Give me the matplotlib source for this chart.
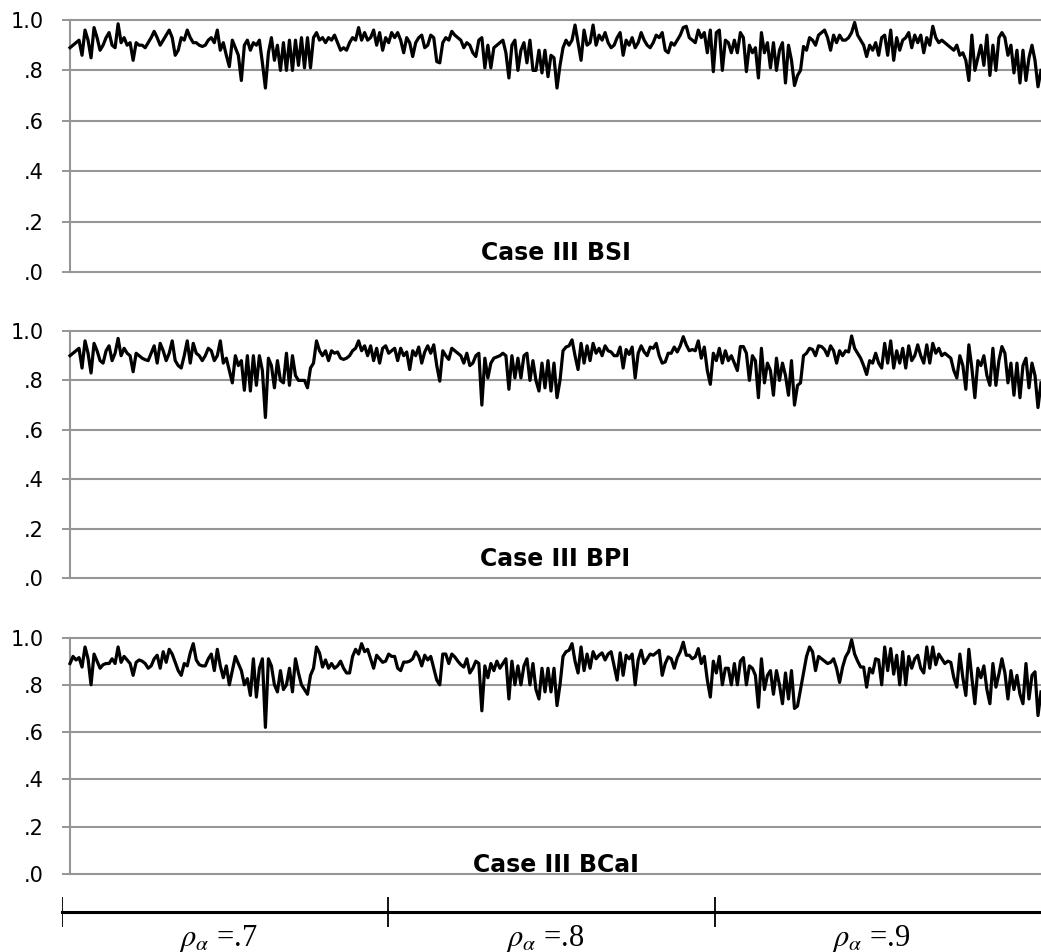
import numpy as np
import matplotlib
matplotlib.use('Agg')
import matplotlib.pyplot as plt

plt.rcParams['font.family'] = ['DejaVu Sans']
plt.rcParams['mathtext.fontset'] = 'stix'

# coverage per condition, 108 conditions for each reliability level
bsi_r7 = [.89, .90, .91, .92, .86, .96, .92, .85, .97, .93, .88, .90, .93, .95, .90, .89, .985, .91,
          .93, .90, .91, .84, .91, .90, .90, .89, .91, .93, .955, .93, .90, .92, .94, .96, .93, .86,
          .88, .93, .92, .96, .93, .91, .91, .90, .895, .90, .92, .93, .91, .96, .88, .91, .86, .815,
          .92, .89, .86, .76, .90, .92, .88, .91, .90, .92, .83, .73, .87, .93, .84, .90, .80, .91,
          .80, .92, .80, .92, .82, .93, .81, .93, .81, .93, .95, .92, .93, .91, .93, .92, .94, .91,
          .88, .89, .88, .91, .93, .92, .97, .92, .95, .92, .93, .96, .90, .95, .88, .93, .91, .95]
bsi_r8 = [.93, .95, .92, .87, .93, .91, .855, .91, .93, .94, .89, .90, .94, .93, .835, .83, .91, .93,
          .92, .955, .94, .93, .92, .89, .91, .90, .87, .855, .92, .93, .81, .90, .81, .89, .90, .91,
          .92, .87, .77, .90, .92, .80, .88, .91, .83, .92, .80, .80, .88, .79, .88, .775, .86, .85,
          .73, .82, .89, .92, .90, .92, .98, .91, .84, .96, .90, .91, .98, .90, .94, .92, .95, .91,
          .89, .90, .93, .95, .86, .92, .90, .93, .89, .91, .95, .92, .90, .89, .91, .94, .93, .95,
          .88, .87, .91, .90, .92, .94, .97, .975, .93, .92, .91, .96, .93, .95, .87, .96, .795, .95]
bsi_r9 = [.96, .80, .92, .91, .87, .92, .87, .95, .93, .795, .90, .87, .89, .77, .95, .87, .91, .81,
          .91, .80, .88, .91, .75, .90, .84, .74, .78, .80, .895, .88, .93, .92, .90, .94, .95, .96,
          .93, .88, .94, .91, .94, .92, .92, .93, .95, .99, .94, .92, .90, .855, .90, .88, .91, .86,
          .93, .94, .86, .96, .84, .93, .88, .92, .93, .95, .89, .94, .91, .94, .87, .93, .90, .975,
          .93, .91, .92, .91, .90, .89, .88, .90, .86, .87, .84, .76, .94, .80, .85, .90, .82, .94,
          .78, .90, .80, .93, .95, .93, .86, .90, .79, .88, .75, .88, .76, .85, .90, .84, .735, .80]

bpi_r7 = [.90, .91, .92, .93, .85, .96, .91, .83, .95, .92, .88, .87, .92, .94, .88, .91, .97, .90,
          .93, .91, .90, .835, .91, .90, .89, .884, .88, .91, .94, .87, .95, .92, .88, .91, .96, .88,
          .86, .85, .90, .96, .87, .95, .91, .90, .88, .90, .93, .92, .88, .90, .96, .87, .89, .84,
          .79, .90, .86, .88, .76, .90, .757, .90, .78, .90, .84, .65, .89, .86, .77, .88, .80, .79,
          .91, .78, .90, .82, .80, .80, .80, .77, .85, .87, .96, .92, .90, .92, .88, .92, .91, .915,
          .89, .885, .89, .90, .92, .93, .96, .92, .94, .90, .94, .88, .93, .87, .93, .94, .91, .92]
bpi_r8 = [.93, .88, .93, .90, .915, .844, .92, .90, .935, .87, .915, .94, .91, .944, .86, .797, .92, .90,
          .885, .93, .92, .91, .90, .87, .91, .86, .87, .90, .91, .70, .89, .81, .87, .89, .895, .90,
          .91, .90, .764, .90, .81, .89, .81, .90, .91, .80, .88, .80, .757, .87, .77, .88, .757, .87,
          .73, .80, .92, .935, .94, .964, .90, .844, .95, .87, .94, .88, .95, .91, .93, .90, .94, .92,
          .915, .90, .90, .935, .85, .925, .905, .935, .81, .91, .94, .915, .90, .935, .93, .95, .90, .87,
          .875, .91, .91, .935, .915, .94, .977, .944, .92, .925, .92, .96, .89, .935, .84, .784, .91, .88]
bpi_r9 = [.93, .87, .92, .88, .90, .87, .84, .937, .937, .91, .80, .90, .88, .73, .93, .79, .87, .84,
          .74, .89, .80, .87, .82, .74, .88, .70, .78, .79, .90, .91, .93, .925, .90, .94, .937, .925,
          .90, .94, .92, .87, .92, .90, .92, .915, .98, .93, .91, .89, .86, .824, .88, .87, .91, .87,
          .85, .95, .87, .96, .85, .92, .87, .93, .85, .94, .88, .90, .944, .90, .87, .944, .87, .95,
          .91, .93, .90, .91, .90, .89, .84, .81, .90, .86, .764, .944, .85, .73, .88, .86, .90, .82,
          .78, .93, .78, .88, .937, .91, .79, .87, .74, .87, .73, .86, .89, .77, .87, .82, .69, .79]

bcai_r7 = [.89, .92, .905, .915, .875, .96, .91, .80, .93, .90, .87, .885, .89, .89, .91, .89, .96, .895,
           .92, .905, .89, .84, .895, .905, .90, .89, .87, .88, .91, .925, .87, .94, .895, .95, .93, .895,
           .86, .84, .89, .88, .935, .974, .905, .885, .88, .88, .91, .93, .86, .95, .88, .83, .88, .80,
           .86, .92, .89, .86, .80, .826, .755, .91, .748, .87, .91, .62, .91, .88, .80, .77, .86, .78,
           .80, .87, .77, .91, .85, .80, .78, .76, .84, .87, .96, .935, .875, .905, .87, .89, .87, .88,
           .90, .87, .85, .85, .92, .95, .93, .974, .94, .95, .91, .87, .925, .91, .895, .90, .93, .92]
bcai_r8 = [.92, .87, .86, .896, .896, .90, .91, .94, .92, .88, .925, .905, .92, .87, .82, .80, .93, .93,
           .89, .93, .918, .90, .885, .875, .91, .85, .87, .90, .89, .69, .88, .83, .89, .86, .90, .87,
           .89, .91, .74, .90, .80, .88, .80, .88, .91, .80, .89, .78, .74, .87, .77, .87, .77, .87,
           .712, .80, .92, .94, .946, .974, .90, .85, .96, .86, .93, .87, .94, .91, .925, .935, .905, .93,
           .94, .88, .82, .935, .84, .925, .91, .93, .80, .905, .946, .89, .91, .93, .925, .935, .946, .84,
           .89, .918, .91, .87, .915, .94, .98, .925, .925, .91, .918, .953, .89, .92, .82, .748, .90, .85]
bcai_r9 = [.92, .80, .87, .87, .80, .89, .80, .90, .915, .80, .88, .87, .84, .705, .91, .78, .84, .86,
           .76, .86, .80, .72, .85, .74, .86, .70, .71, .78, .85, .92, .96, .94, .86, .92, .91, .90,
           .89, .895, .91, .87, .81, .875, .918, .94, .99, .93, .90, .875, .875, .79, .87, .85, .91, .905,
           .80, .96, .86, .953, .845, .925, .80, .94, .80, .92, .87, .91, .925, .87, .85, .96, .87, .96,
           .885, .93, .91, .89, .90, .895, .83, .79, .93, .83, .755, .95, .83, .72, .87, .83, .88, .78,
           .72, .89, .79, .845, .91, .85, .74, .86, .78, .84, .76, .72, .89, .74, .84, .855, .67, .77]

panel_titles = ['Case III BSI', 'Case III BPI', 'Case III BCaI']
panel_series = [bsi_r7 + bsi_r8 + bsi_r9,
                bpi_r7 + bpi_r8 + bpi_r9,
                bcai_r7 + bcai_r8 + bcai_r9]
rho_labels = [r'$\rho_\alpha$ =.7', r'$\rho_\alpha$ =.8', r'$\rho_\alpha$ =.9']
ytick_vals = [0, .2, .4, .6, .8, 1.0]
ytick_labels = ['.0', '.2', '.4', '.6', '.8', '1.0']

W, H = 1041, 952
fig = plt.figure(figsize=(W / 100, H / 100), dpi=100)

# (pixel row of 1.0, pixel row of 0, title baseline above the zero line)
panel_rows = [(20, 272, 0.046), (331, 578, 0.050), (637.5, 874, 0.010)]
grid_col = '#969696'
left_px = 70

for title, series, (top, bot, t_y) in zip(panel_titles, panel_series, panel_rows):
    ax = fig.add_axes([left_px / W, 1 - bot / H, (W - left_px) / W, (bot - top) / H])
    y = np.array(series)
    x = np.arange(len(y))
    ax.set_xlim(0, len(y) - 1)
    ax.set_ylim(0, 1.0)
    for v in ytick_vals:
        ax.axhline(v, color=grid_col, lw=1.5, clip_on=False, zorder=1)
    ax.plot(x, y, color='black', lw=2.3, solid_joinstyle='round', zorder=3, clip_on=False)
    ax.set_xticks([])
    ax.set_yticks(ytick_vals)
    ax.set_yticklabels(ytick_labels)
    ax.tick_params(axis='y', direction='out', length=6, width=1.4, color=grid_col,
                   labelsize=15, pad=13)
    for s in ['top', 'right', 'bottom']:
        ax.spines[s].set_visible(False)
    ax.spines['left'].set_color(grid_col)
    ax.spines['left'].set_linewidth(1.5)
    ax.text(0.5, t_y, title, transform=ax.transAxes, ha='center', va='baseline',
            fontsize=17, fontweight='bold')

# bracket that marks the three reliability levels
bx = fig.add_axes([62 / W, 1 - 927 / H, (W - 62) / W, 30 / H])
bx.set_xlim(0, 3)
bx.set_ylim(-1, 1)
bx.axis('off')
bx.plot([0, 3], [0, 0], color='black', lw=2.2, clip_on=False)
for k in range(3):
    bx.plot([k, k], [-1, 1], color='black', lw=1.3)
    bx.text(k + 0.48, -1.75, rho_labels[k], ha='center', va='center', fontsize=22,
            family=['Liberation Serif', 'DejaVu Serif'])

fig.savefig('out.png', dpi=100)
